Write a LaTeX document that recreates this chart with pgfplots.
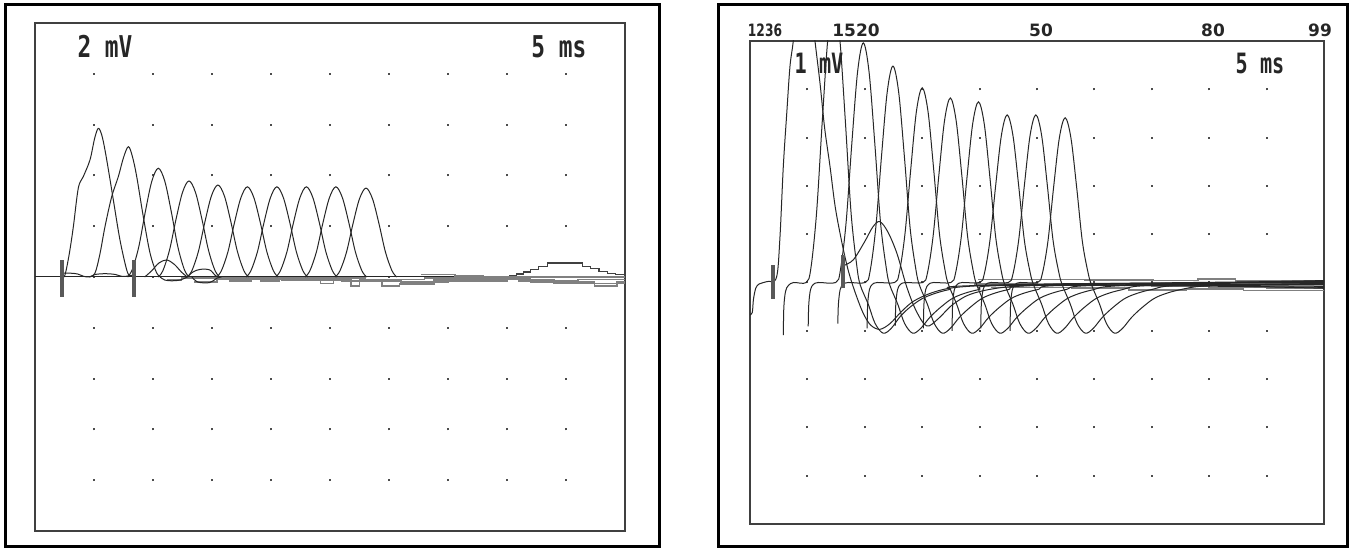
\documentclass[border=0pt]{standalone}
\usepackage{pgfplots}
\pgfplotsset{compat=1.18}
\usepackage{fontspec}
\setmainfont{DejaVu Sans}
\newfontfamily\monof{DejaVu Sans Mono}
\newfontfamily\labf{DejaVu Sans}
\begin{document}
\begin{tikzpicture}
\useasboundingbox (0,0) rectangle (676.5pt,274.5pt);
\fill[white] (0,0) rectangle (676.5pt,274.5pt);
\pgfplotsset{
 panel/.style={scale only axis, axis line style={black!75,line width=1pt}, xmin=0, xmax=50,
   xtick={5,10,...,45}, ytick=\empty, xticklabels={}, major tick length=0pt, xmajorgrids, clip=true},
 tr/.style={black!85, line width=0.5pt, smooth, tension=0.55, mark=none},
 bd/.style={black!50, line width=0.8pt, const plot, mark=none},
 stim/.style={black!65, line width=2pt, mark=none},
}
% ---------------- left panel: 2 mV / div, 5 ms / div ----------------
\begin{axis}[panel, at={(17.5pt,9pt)}, anchor=south west, width=295pt, height=254pt, ymin=-10, ymax=10,
  grid style={black!70, line width=1pt, dash pattern=on 1pt off 24.4pt, dash phase=0.5pt}]
\addplot[black!85, line width=0.5pt, mark=none] coordinates {(0,0) (50,0)};
% band below the baseline
\addplot[bd] coordinates {(11.2,-0.12) (12.4,-0.05) (16.5,-0.15) (18.3,-0.05) (19.1,-0.15) (20.7,-0.08) (24.2,-0.25) (25.3,-0.1) (26.8,-0.35) (27.5,-0.12) (29.4,-0.35) (30.9,-0.28) (33.8,-0.12) (38,-0.08) (42,-0.2) (47.4,-0.35) (49.3,-0.2) (50,-0.2)};
\addplot[bd] coordinates {(13.5,-0.2) (15.4,-0.08) (20.9,-0.12) (26,-0.15) (31,-0.2) (35,-0.15) (40,-0.1) (44,-0.25) (50,-0.25)};
\addplot[bd] coordinates {(14,-0.05) (22,-0.05) (28,-0.1) (33,-0.05) (36,-0.05) (41,-0.15) (46,-0.1) (50,-0.1)};
\addplot[bd] coordinates {(32.7,0.1) (35.6,0.05) (38,0.0) (50,0.0)};
% late hump
\addplot[black!75, line width=0.6pt, const plot, mark=none] coordinates {(40.2,0.05) (40.8,0.12) (41.4,0.2) (42.0,0.3) (42.7,0.4) (43.4,0.55) (46.4,0.42) (47.1,0.32) (47.8,0.22) (48.5,0.15) (49.2,0.1) (50,0.1)};
% small humps
\addplot[tr] coordinates {(9.3,0) (9.9,0.25) (10.5,0.55) (11.16,0.67) (11.8,0.5) (12.4,0.2) (12.9,0.0)};
\addplot[tr] coordinates {(10.6,0) (11.0,-0.12) (11.6,-0.15) (12.3,-0.12) (12.9,0)};
\addplot[tr] coordinates {(12.9,0.0) (13.4,0.2) (14.0,0.3) (14.8,0.28) (15.3,0.05) (15.6,0)};
\addplot[tr] coordinates {(13.3,0) (13.8,-0.2) (14.8,-0.22) (15.4,-0.05) (15.8,0)};
% baseline wiggle between markers
\addplot[tr] coordinates {(2.35,0.15) (3.0,0.15) (3.6,0.12) (4.1,0.03) (4.6,0.0) (5.1,0.1) (6.0,0.13) (6.8,0.1) (7.4,0.02) (8.0,0.05) (8.4,0.08)};
% responses
\addplot[tr] coordinates {(2.3,0.0) (2.54,0.08) (2.9,0.9) (3.25,1.98) (3.67,3.5) (4.09,3.95) (4.66,4.61) (5.05,5.45) (5.36,5.85) (5.65,5.6) (5.93,5.0) (6.3,4.0) (6.64,3.03) (7.20,1.46) (7.77,0.28) (8.05,0.05) (8.4,0.0)};
\addplot[tr] coordinates {(4.6,0.0) (5.08,0.15) (5.5,0.9) (5.93,1.98) (6.50,3.16) (7.06,3.95) (7.5,4.7) (7.91,5.13) (8.25,4.75) (8.62,3.95) (9.18,2.37) (9.75,0.94) (10.31,0.16) (10.7,0.0)};
\addplot[tr] coordinates {(7.85,0) (8.25,0.30) (8.80,1.20) (9.35,2.57) (9.90,3.77) (10.45,4.28) (11.00,3.77) (11.55,2.57) (12.10,1.20) (12.65,0.30) (13.05,0)};
\addplot[tr] coordinates {(10.45,0) (10.85,0.26) (11.40,1.06) (11.95,2.27) (12.50,3.33) (13.05,3.78) (13.60,3.33) (14.15,2.27) (14.70,1.06) (15.25,0.26) (15.65,0)};
\addplot[tr] coordinates {(12.90,0) (13.30,0.25) (13.85,1.01) (14.40,2.17) (14.95,3.19) (15.50,3.62) (16.05,3.19) (16.60,2.17) (17.15,1.01) (17.70,0.25) (18.10,0)};
\addplot[tr] coordinates {(15.40,0) (15.80,0.25) (16.35,0.99) (16.90,2.13) (17.45,3.12) (18.00,3.55) (18.55,3.12) (19.10,2.13) (19.65,0.99) (20.20,0.25) (20.60,0)};
\addplot[tr] coordinates {(17.90,0) (18.30,0.25) (18.85,0.99) (19.40,2.13) (19.95,3.12) (20.50,3.55) (21.05,3.12) (21.60,2.13) (22.15,0.99) (22.70,0.25) (23.10,0)};
\addplot[tr] coordinates {(20.40,0) (20.80,0.25) (21.35,0.99) (21.90,2.13) (22.45,3.12) (23.00,3.55) (23.55,3.12) (24.10,2.13) (24.65,0.99) (25.20,0.25) (25.60,0)};
\addplot[tr] coordinates {(22.90,0) (23.30,0.25) (23.85,0.99) (24.40,2.13) (24.95,3.12) (25.50,3.55) (26.05,3.12) (26.60,2.13) (27.15,0.99) (27.70,0.25) (28.10,0)};
\addplot[tr] coordinates {(25.45,0) (25.85,0.25) (26.40,0.98) (26.95,2.10) (27.50,3.08) (28.05,3.50) (28.60,3.08) (29.15,2.10) (29.70,0.98) (30.25,0.25) (30.65,0)};
% stimulus markers
\addplot[stim] coordinates {(2.29,-0.78) (2.29,0.67)};
\addplot[stim] coordinates {(8.4,-0.78) (8.4,0.67)};
\end{axis}
% ---------------- right panel: 1 mV / div, 5 ms / div ----------------
\begin{axis}[panel, at={(375pt,12.5pt)}, anchor=south west, width=287pt, height=241.5pt, ymin=-5, ymax=5,
  grid style={black!70, line width=1pt, dash pattern=on 1pt off 23.15pt, dash phase=0.5pt}]
% baseline band
\addplot[bd] coordinates {(19.9,0.06) (29.2,0.05) (35.1,0.04) (39,0.07) (42.3,0.03) (50,0.03)};
\addplot[bd] coordinates {(19.5,-0.03) (25,-0.05) (30,-0.02) (35,-0.08) (40,-0.1) (45,-0.12) (50,-0.12)};
\addplot[bd] coordinates {(21,-0.1) (28,-0.12) (33,-0.16) (38,-0.14) (43,-0.17) (50,-0.15)};
% responses
\addplot[tr] coordinates {(0,-0.67) (0.2,-0.62) (0.3,-0.35) (0.5,-0.12) (0.8,-0.03) (1.5,0.02) (2.3,0.1) (2.6,0.9) (2.9,2.4) (3.2,3.5) (3.48,4.47) (3.77,5.0) (4.2,6.0) (4.7,6.5) (5.2,6.0) (5.66,5.0) (6.10,4.12) (6.5,3.2) (6.97,2.40) (7.4,1.6) (7.84,1.02) (8.3,0.5) (8.71,0.12) (9.3,-0.3) (9.87,-0.64) (10.5,-0.88) (11.3,-0.97) (12.2,-0.85) (13.2,-0.6) (14.3,-0.38) (16,-0.2) (18,-0.1) (22,-0.05) (30,-0.02) (50,0.0)};
\addplot[tr] coordinates {(2.9,-1.09) (2.95,-0.5) (3.1,-0.18) (3.35,-0.06) (3.8,0.0) (4.9,0.0) (5.3,0.29) (5.8,1.45) (6.3,3.36) (6.8,5.1) (7.3,5.8) (7.8,5.1) (8.3,3.36) (8.8,1.45) (9.3,0.35) (9.6,-0.05) (10.3,-0.45) (10.9,-0.85) (11.6,-1.05) (12.3,-0.95) (13.1,-0.7) (14.1,-0.48) (15.3,-0.3) (17.3,-0.15) (20.3,-0.06) (50,0.03)};
\addplot[tr] coordinates {(8.15,0.35) (9.0,0.47) (10.0,0.85) (10.7,1.15) (11.3,1.26) (12.0,1.05) (12.8,0.6) (13.65,-0.09) (14.5,-0.6) (15.4,-0.9) (16.4,-0.75) (17.7,-0.45) (19.5,-0.22) (23,-0.08) (30,-0.03) (50,-0.01)};
\addplot[tr] coordinates {(5.07,-0.91) (5.12,-0.45) (5.27,-0.15) (5.52,-0.04) (5.97,0) (7.47,0) (7.87,0.25) (8.37,1.24) (8.87,2.88) (9.37,4.36) (9.87,4.96) (10.37,4.36) (10.87,2.88) (11.37,1.24) (11.87,0.30) (12.17,-0.05) (12.87,-0.45) (13.47,-0.85) (14.17,-1.05) (14.87,-0.95) (15.67,-0.72) (16.67,-0.5) (17.87,-0.3) (19.87,-0.15) (22.87,-0.06) (50,-0.04)};
\addplot[tr] coordinates {(7.65,-0.85) (7.70,-0.45) (7.85,-0.15) (8.10,-0.04) (8.55,0) (10.05,0) (10.45,0.22) (10.95,1.12) (11.45,2.60) (11.95,3.94) (12.45,4.48) (12.95,3.94) (13.45,2.60) (13.95,1.12) (14.45,0.27) (14.75,-0.05) (15.45,-0.45) (16.05,-0.85) (16.75,-1.05) (17.45,-0.95) (18.25,-0.72) (19.25,-0.5) (20.45,-0.3) (22.45,-0.15) (25.45,-0.06) (50,0.02)};
\addplot[tr] coordinates {(10.2,-0.95) (10.25,-0.45) (10.4,-0.15) (10.65,-0.04) (11.1,0) (12.6,0) (13.0,0.20) (13.5,1.01) (14.0,2.34) (14.5,3.55) (15.0,4.03) (15.5,3.55) (16.0,2.34) (16.5,1.01) (17.0,0.24) (17.3,-0.05) (18.0,-0.45) (18.6,-0.85) (19.3,-1.05) (20.0,-0.95) (20.8,-0.72) (21.8,-0.5) (23.0,-0.3) (25.0,-0.15) (28.0,-0.06) (50,-0.1)};
\addplot[tr] coordinates {(12.65,-0.9) (12.70,-0.45) (12.85,-0.15) (13.10,-0.04) (13.55,0) (15.05,0) (15.45,0.19) (15.95,0.96) (16.45,2.22) (16.95,3.36) (17.45,3.82) (17.95,3.36) (18.45,2.22) (18.95,0.96) (19.45,0.23) (19.75,-0.05) (20.45,-0.45) (21.05,-0.85) (21.75,-1.05) (22.45,-0.95) (23.25,-0.72) (24.25,-0.5) (25.45,-0.3) (27.45,-0.15) (30.45,-0.06) (50,-0.05)};
\addplot[tr] coordinates {(15.1,-0.95) (15.15,-0.45) (15.3,-0.15) (15.55,-0.04) (16.0,0) (17.5,0) (17.9,0.19) (18.4,0.94) (18.9,2.17) (19.4,3.29) (19.9,3.74) (20.4,3.29) (20.9,2.17) (21.4,0.94) (21.9,0.22) (22.2,-0.05) (22.9,-0.45) (23.5,-0.85) (24.2,-1.05) (24.9,-0.95) (25.7,-0.72) (26.7,-0.5) (27.9,-0.3) (29.9,-0.15) (32.9,-0.06) (50,0.04)};
\addplot[tr] coordinates {(17.6,-1.0) (17.65,-0.45) (17.8,-0.15) (18.05,-0.04) (18.5,0) (20.0,0) (20.4,0.17) (20.9,0.87) (21.4,2.01) (21.9,3.05) (22.4,3.47) (22.9,3.05) (23.4,2.01) (23.9,0.87) (24.4,0.21) (24.7,-0.05) (25.4,-0.45) (26.0,-0.85) (26.7,-1.05) (27.4,-0.95) (28.2,-0.72) (29.2,-0.5) (30.4,-0.3) (32.4,-0.15) (35.4,-0.06) (50,-0.08)};
\addplot[tr] coordinates {(20.1,-0.95) (20.15,-0.45) (20.3,-0.15) (20.55,-0.04) (21.0,0) (22.5,0) (22.9,0.17) (23.4,0.87) (23.9,2.01) (24.4,3.05) (24.9,3.47) (25.4,3.05) (25.9,2.01) (26.4,0.87) (26.9,0.21) (27.2,-0.05) (27.9,-0.45) (28.5,-0.85) (29.2,-1.05) (29.9,-0.95) (30.7,-0.72) (31.7,-0.5) (32.9,-0.3) (34.9,-0.15) (37.9,-0.06) (50,-0.12)};
\addplot[tr] coordinates {(22.65,-1.0) (22.70,-0.45) (22.85,-0.15) (23.10,-0.04) (23.55,0) (25.05,0) (25.45,0.17) (25.95,0.85) (26.45,1.98) (26.95,3.00) (27.45,3.41) (27.95,3.00) (28.45,1.98) (28.95,0.85) (29.45,0.20) (29.75,-0.05) (30.45,-0.45) (31.05,-0.85) (31.75,-1.05) (32.45,-0.95) (33.25,-0.72) (34.25,-0.5) (35.45,-0.3) (37.45,-0.15) (40.45,-0.06) (50,-0.02)};
% stimulus markers
\addplot[stim] coordinates {(2.03,-0.34) (2.03,0.36)};
\addplot[stim] coordinates {(8.13,-0.12) (8.13,0.57)};
\end{axis}
% outer frames
\draw[line width=1.5pt] (2.5pt,1pt) rectangle (329.5pt,272pt);
\draw[line width=1.5pt] (359pt,1pt) rectangle (673.5pt,272pt);
% scale labels
\node[font=\monof\bfseries\fontsize{15}{15}\selectfont, xscale=0.76, inner sep=0pt, text=black!85] at (52.5pt,251.5pt) {2 mV};
\node[font=\monof\bfseries\fontsize{15}{15}\selectfont, xscale=0.76, inner sep=0pt, text=black!85] at (279.4pt,251.2pt) {5 ms};
\node[font=\monof\bfseries\fontsize{14}{14}\selectfont, xscale=0.72, inner sep=0pt, text=black!85] at (409.5pt,243pt) {1 mV};
\node[font=\monof\bfseries\fontsize{14}{14}\selectfont, xscale=0.72, inner sep=0pt, text=black!85] at (630pt,242.5pt) {5 ms};
% trace numbers above the right panel
\node[font=\labf\bfseries\fontsize{8.5}{8.5}\selectfont, xscale=0.72, inner sep=0pt, text=black!85] at (382.5pt,259.5pt) {1236};
\node[font=\labf\bfseries\fontsize{8.5}{8.5}\selectfont, inner sep=0pt, text=black!85] at (428pt,259.5pt) {1520};
\node[font=\labf\bfseries\fontsize{8.5}{8.5}\selectfont, inner sep=0pt, text=black!85] at (520.5pt,259.5pt) {50};
\node[font=\labf\bfseries\fontsize{8.5}{8.5}\selectfont, inner sep=0pt, text=black!85] at (606.5pt,259.5pt) {80};
\node[font=\labf\bfseries\fontsize{8.5}{8.5}\selectfont, inner sep=0pt, text=black!85] at (660pt,259.5pt) {99};
\end{tikzpicture}
\end{document}
